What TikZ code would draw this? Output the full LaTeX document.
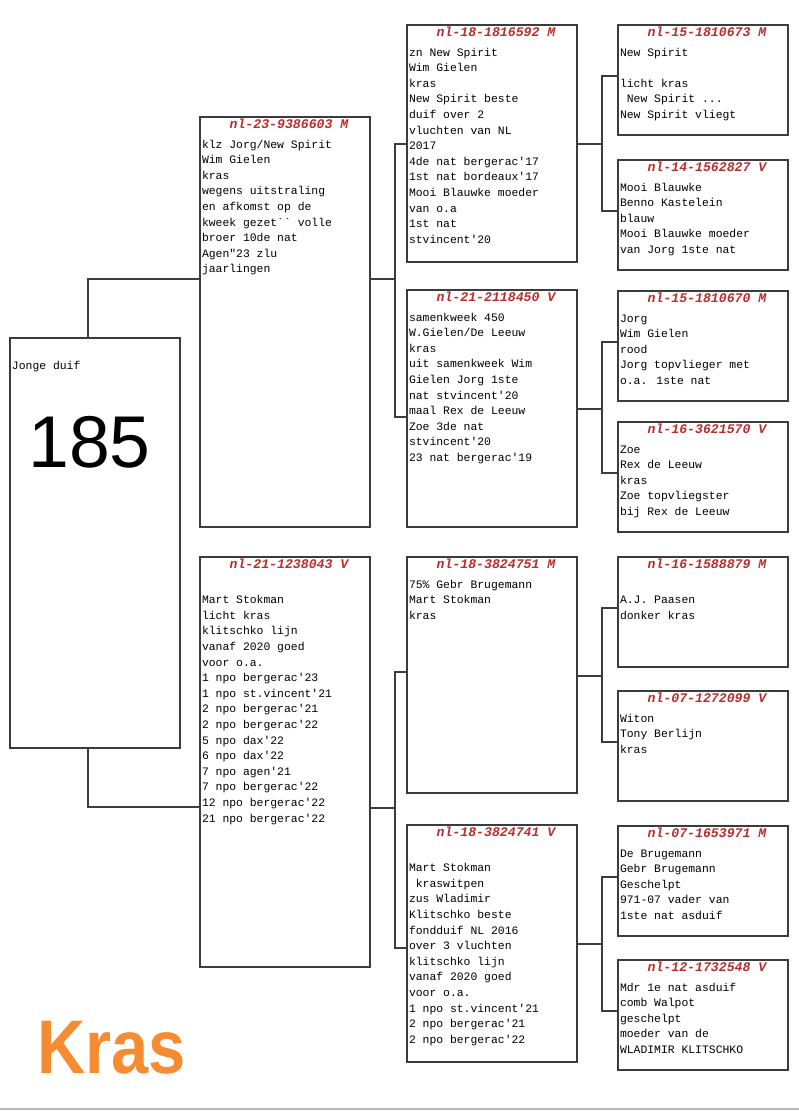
\documentclass[tikz,border=0pt]{standalone}
\usepackage{fontspec}
\setmainfont{Liberation Serif}
\newfontfamily\pedfont{Liberation Mono}
\newfontfamily\numfont{Liberation Sans}
\usetikzlibrary{positioning}
\definecolor{ringred}{RGB}{185,45,45}
\definecolor{framegray}{RGB}{60,60,60}
\definecolor{krasorange}{RGB}{245,140,50}
\definecolor{rulegray}{RGB}{185,185,185}
\newlength{\px}
\setlength{\px}{0.75pt}
%% header line with the ring number
\newcommand{\ringline}[1]{\makebox[\linewidth]{\hspace{8\px}\rule{0pt}{11\px}%
  {\color{ringred}\bfseries\itshape\fontsize{9.9}{11.7}\selectfont #1}}\\[4.4\px]}
%% card: height, ring, lines
\newcommand{\card}[3]{\parbox[t][#1\px][t]{166\px}{\pedfont\fontsize{8.55}{11.7}\selectfont
  \raggedright\ringline{#2}#3}}
\begin{document}
\begin{tikzpicture}
[x=0.75pt,y=-0.75pt,
  pedbox/.style={draw=framegray,line width=0.8pt,anchor=north west,
    inner xsep=2\px,inner ysep=0pt,outer sep=0pt},%
  linedecorate/.style={draw=framegray,line width=0.8pt}]
\useasboundingbox (0,0) rectangle (799,1111);
%% generation 0
\node (root) [pedbox] at (10,338) {\parbox[t][410\px][t]{166\px}{\pedfont
  \fontsize{8.55}{11.7}\selectfont\rule{0pt}{31\px}Jonge duif}};
\node (rootnum) [anchor=base,inner sep=0pt,font=\numfont\fontsize{55}{55}\selectfont]
  at ([xshift=-5.5\px,yshift=-129\px]root.north) {185};
%% generation 1
\node (sire) [pedbox] at (200,117) {\card{410}{nl-23-9386603 M}{klz Jorg/New Spirit\\
  Wim Gielen\\ kras\\ wegens uitstraling\\ en afkomst op de\\
  kweek gezet\textasciigrave\textasciigrave{} volle\\ broer 10de nat\\ Agen"23 zlu\\ jaarlingen}};
\node (dam) [pedbox] at (200,557) {\card{410}{nl-21-1238043 V}{\mbox{}\\ Mart Stokman\\
  licht kras\\ klitschko lijn\\ vanaf 2020 goed\\ voor o.a.\\ 1 npo bergerac'23\\
  1 npo st.vincent'21\\ 2 npo bergerac'21\\ 2 npo bergerac'22\\ 5 npo dax'22\\
  6 npo dax'22\\ 7 npo agen'21\\ 7 npo bergerac'22\\ 12 npo bergerac'22\\ 21 npo bergerac'22}};
%% generation 2
\node (ss) [pedbox] at (407,25) {\card{237}{nl-18-1816592 M}{zn New Spirit\\ Wim Gielen\\
  kras\\ New Spirit beste\\ duif over 2\\ vluchten van NL\\ 2017\\ 4de nat bergerac'17\\
  1st nat bordeaux'17\\ Mooi Blauwke moeder\\ van o.a\\ 1st nat\\ stvincent'20}};
\node (sd) [pedbox] at (407,290) {\card{237}{nl-21-2118450 V}{samenkweek 450\\
  W.Gielen/De Leeuw\\ kras\\ uit samenkweek Wim\\ Gielen Jorg 1ste\\ nat stvincent'20\\
  maal Rex de Leeuw\\ Zoe 3de nat\\ stvincent'20\\ 23 nat bergerac'19}};
\node (ds) [pedbox] at (407,557) {\card{236}{nl-18-3824751 M}{75\% Gebr Brugemann\\
  Mart Stokman\\ kras}};
\node (dd) [pedbox] at (407,825) {\card{237}{nl-18-3824741 V}{\mbox{}\\ Mart Stokman\\
  \ kraswitpen\\ zus Wladimir\\ Klitschko beste\\ fondduif NL 2016\\ over 3 vluchten\\
  klitschko lijn\\ vanaf 2020 goed\\ voor o.a.\\ 1 npo st.vincent'21\\ 2 npo bergerac'21\\
  2 npo bergerac'22}};
%% generation 3
\node (sss) [pedbox] at (618,25) {\card{110}{nl-15-1810673 M}{New Spirit\\ \mbox{}\\
  licht kras\\ \ New Spirit ...\\ New Spirit vliegt}};
\node (ssd) [pedbox] at (618,160) {\card{110}{nl-14-1562827 V}{Mooi Blauwke\\
  Benno Kastelein\\ blauw\\ Mooi Blauwke moeder\\ van Jorg 1ste nat}};
\node (sds) [pedbox] at (618,291) {\card{110}{nl-15-1810670 M}{Jorg\\ Wim Gielen\\ rood\\
  Jorg topvlieger met\\ o.a. 1ste nat}};
\node (sdd) [pedbox] at (618,422) {\card{110}{nl-16-3621570 V}{Zoe\\ Rex de Leeuw\\ kras\\
  Zoe topvliegster\\ bij Rex de Leeuw}};
\node (dss) [pedbox] at (618,557) {\card{110}{nl-16-1588879 M}{\mbox{}\\ A.J. Paasen\\
  donker kras}};
\node (dsd) [pedbox] at (618,691) {\card{110}{nl-07-1272099 V}{Witon\\ Tony Berlijn\\ kras}};
\node (dds) [pedbox] at (618,826) {\card{110}{nl-07-1653971 M}{De Brugemann\\
  Gebr Brugemann\\ Geschelpt\\ 971-07 vader van\\ 1ste nat asduif}};
\node (ddd) [pedbox] at (618,960) {\card{110}{nl-12-1732548 V}{Mdr 1e nat asduif\\
  comb Walpot\\ geschelpt\\ moeder van de\\ WLADIMIR KLITSCHKO}};
%% link points
\coordinate (sire-in) at ([yshift=-162\px]sire.north west);
\coordinate (sire-out) at ([yshift=-162\px]sire.north east);
\coordinate (dam-in) at ([yshift=-250\px]dam.north west);
\coordinate (dam-out) at ([yshift=-251\px]dam.north east);
\foreach \n/\dy in {ss/119, sd/127, ds/115, dd/123} {
  \coordinate (\n-in) at ([yshift=-\dy\px]\n.north west);
  \coordinate (\n-out) at ([yshift=-119\px]\n.north east);
}
\foreach \n in {sss, ssd, sds, sdd, dss, dsd, dds, ddd} {
  \coordinate (\n-in) at ([yshift=-51\px]\n.north west);
}
%% lines
\draw[linedecorate] ([xshift=-7\px]root.north) |- (sire-in);
\draw[linedecorate] ([xshift=-7\px]root.south) |- (dam-in);
\foreach \parent/\child in {sire/ss, sire/sd, dam/ds, dam/dd, ss/sss, ss/ssd,
  sd/sds, sd/sdd, ds/dss, ds/dsd, dd/dds, dd/ddd} {
  \draw[linedecorate] (\parent-out) -- ++(25,0) |- (\child-in);
}
%% logo and bottom rule
\node (logo) [anchor=base west,inner sep=0pt,text=krasorange,xscale=0.88,
  font=\numfont\bfseries\fontsize{57}{57}\selectfont] at (37,1073) {Kras};
\draw[rulegray,line width=1.5\px] (0,1109) -- (799,1109);
\end{tikzpicture}
\end{document}
